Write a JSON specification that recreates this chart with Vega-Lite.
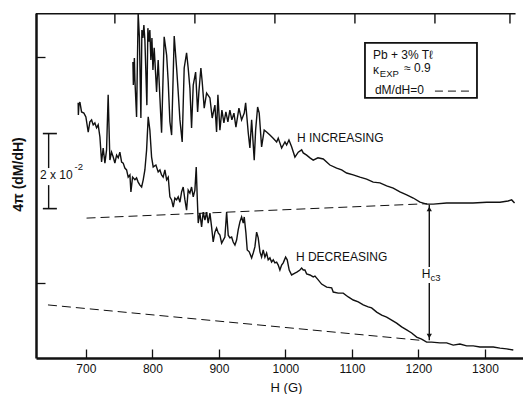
{
  "$schema": "https://vega.github.io/schema/vega-lite/v6.json",
  "width": 487,
  "height": 345,
  "autosize": {"type": "none"},
  "padding": {"left": 36, "top": 13, "right": 0, "bottom": 36},
  "background": "white",
  "config": {
    "font": "Liberation Sans",
    "view": {"stroke": null},
    "axis": {"grid": false, "domainColor": "#111", "tickColor": "#111", "labelColor": "#111", "titleColor": "#111"}
  },
  "resolve": {"axis": {"y": "independent"}},
  "datasets": {
    "inc": [
      {"H":770.7,"y":7.81},{"H":771.4,"y":7.20},{"H":772.9,"y":7.91},{"H":773.7,"y":7.33},{"H":776.2,"y":6.36},
      {"H":778.6,"y":9.10},{"H":780.5,"y":8.44},{"H":782.7,"y":6.33},{"H":784.2,"y":8.65},{"H":785.7,"y":8.44},
      {"H":787.2,"y":8.78},{"H":788.7,"y":8.39},{"H":791.7,"y":6.67},{"H":793.2,"y":8.70},{"H":794.7,"y":8.34},
      {"H":796.2,"y":8.65},{"H":797.7,"y":7.86},{"H":799.3,"y":8.44},{"H":800.8,"y":7.60},{"H":802.7,"y":8.18},
      {"H":806.3,"y":7.02},{"H":808.7,"y":7.86},{"H":811.3,"y":6.86},{"H":813.8,"y":5.94},{"H":817.7,"y":8.47},
      {"H":821.4,"y":7.99},{"H":823.8,"y":7.28},{"H":826.3,"y":6.23},{"H":828.9,"y":5.88},{"H":832.8,"y":8.49},
      {"H":836.4,"y":7.65},{"H":838.8,"y":7.02},{"H":841.4,"y":6.28},{"H":844.8,"y":5.70},{"H":847.8,"y":7.65},
      {"H":851.4,"y":8.05},{"H":853.8,"y":7.65},{"H":856.4,"y":7.12},{"H":858.9,"y":6.07},{"H":861.4,"y":7.20},
      {"H":865.0,"y":7.54},{"H":868.0,"y":6.49},{"H":869.9,"y":7.02},{"H":872.9,"y":7.65},{"H":874.9,"y":7.28},
      {"H":877.9,"y":6.59},{"H":881.5,"y":6.99},{"H":886.5,"y":6.86},{"H":889.9,"y":6.33},{"H":894.0,"y":6.67},
      {"H":896.5,"y":5.96},{"H":898.5,"y":6.94},{"H":901.5,"y":6.01},{"H":904.5,"y":6.54},{"H":907.5,"y":6.20},
      {"H":910.5,"y":6.49},{"H":913.5,"y":6.23},{"H":916.5,"y":6.54},{"H":919.5,"y":6.28},{"H":922.6,"y":6.46},
      {"H":925.6,"y":6.09},{"H":930.1,"y":6.59},{"H":934.1,"y":6.28},{"H":938.1,"y":6.46},{"H":940.2,"y":6.73},
      {"H":944.1,"y":5.94},{"H":946.6,"y":5.54},{"H":949.2,"y":6.28},{"H":953.1,"y":5.22},{"H":955.2,"y":6.01},
      {"H":958.2,"y":6.62},{"H":960.6,"y":6.46},{"H":964.2,"y":5.57},{"H":968.1,"y":6.01},{"H":971.7,"y":5.96},
      {"H":976.7,"y":5.88},{"H":981.2,"y":5.80},{"H":986.8,"y":5.70},{"H":989.2,"y":5.80},{"H":994.3,"y":5.54},
      {"H":999.3,"y":5.70},{"H":1001.8,"y":5.62},{"H":1005.3,"y":5.75},{"H":1009.3,"y":5.57},{"H":1014.3,"y":5.30},
      {"H":1019.3,"y":5.43},{"H":1024.4,"y":5.49},{"H":1026.8,"y":5.41},{"H":1031.9,"y":5.35},{"H":1036.9,"y":5.28},
      {"H":1041.8,"y":5.22},{"H":1048.9,"y":5.28},{"H":1056.9,"y":5.25},{"H":1066.9,"y":5.09},{"H":1077.0,"y":5.01},
      {"H":1084.5,"y":4.96},{"H":1092.0,"y":4.88},{"H":1101.9,"y":4.83},{"H":1112.0,"y":4.77},{"H":1122.1,"y":4.72},
      {"H":1132.0,"y":4.64},{"H":1142.1,"y":4.62},{"H":1152.2,"y":4.54},{"H":1162.1,"y":4.48},{"H":1172.2,"y":4.38},
      {"H":1182.3,"y":4.30},{"H":1192.2,"y":4.22},{"H":1202.3,"y":4.11},{"H":1212.3,"y":4.06},{"H":1222.3,"y":4.06},
      {"H":1242.4,"y":4.09},{"H":1262.4,"y":4.09},{"H":1282.0,"y":4.09},{"H":1302.6,"y":4.11},{"H":1322.6,"y":4.11},
      {"H":1334.6,"y":4.14},{"H":1340.2,"y":4.17},{"H":1344.5,"y":4.09}
    ],
    "dec": [
      {"H":688.4,"y":6.73},{"H":688.7,"y":6.41},{"H":689.5,"y":6.67},{"H":691.0,"y":6.75},{"H":693.5,"y":6.49},
      {"H":697.0,"y":6.46},{"H":700.0,"y":6.36},{"H":703.5,"y":5.96},{"H":706.0,"y":6.23},{"H":708.6,"y":6.28},
      {"H":711.0,"y":6.15},{"H":713.5,"y":6.20},{"H":716.1,"y":6.07},{"H":718.5,"y":6.15},{"H":721.1,"y":5.83},
      {"H":723.6,"y":5.17},{"H":726.0,"y":5.54},{"H":728.6,"y":5.14},{"H":731.1,"y":5.49},{"H":733.5,"y":6.94},
      {"H":736.1,"y":5.22},{"H":738.6,"y":5.43},{"H":741.1,"y":5.30},{"H":743.6,"y":5.14},{"H":746.2,"y":5.35},
      {"H":748.6,"y":5.28},{"H":751.1,"y":5.43},{"H":753.7,"y":5.17},{"H":756.1,"y":5.14},{"H":758.6,"y":5.01},
      {"H":761.2,"y":4.96},{"H":763.6,"y":4.77},{"H":766.2,"y":4.83},{"H":767.7,"y":4.38},{"H":770.2,"y":4.77},
      {"H":773.7,"y":4.70},{"H":776.2,"y":4.75},{"H":778.6,"y":4.64},{"H":781.2,"y":4.56},{"H":783.8,"y":4.51},
      {"H":786.2,"y":4.70},{"H":788.7,"y":4.96},{"H":791.3,"y":5.49},{"H":793.7,"y":6.36},{"H":796.2,"y":6.01},
      {"H":798.8,"y":5.30},{"H":801.2,"y":5.04},{"H":805.3,"y":5.09},{"H":808.7,"y":4.91},{"H":811.3,"y":4.96},
      {"H":813.8,"y":4.83},{"H":816.2,"y":4.77},{"H":818.8,"y":4.96},{"H":821.4,"y":4.70},{"H":823.8,"y":4.77},
      {"H":826.3,"y":4.25},{"H":828.9,"y":4.17},{"H":831.3,"y":3.98},{"H":833.8,"y":4.22},{"H":836.4,"y":4.17},
      {"H":838.8,"y":4.25},{"H":841.4,"y":4.11},{"H":843.9,"y":4.38},{"H":846.3,"y":4.51},{"H":848.9,"y":4.17},
      {"H":851.4,"y":3.90},{"H":853.8,"y":4.43},{"H":856.4,"y":4.35},{"H":858.9,"y":4.51},{"H":861.4,"y":4.25},
      {"H":863.9,"y":4.43},{"H":865.9,"y":5.04},{"H":867.3,"y":4.30},{"H":868.9,"y":3.56},{"H":871.4,"y":3.82},
      {"H":874.0,"y":3.46},{"H":876.4,"y":3.85},{"H":879.0,"y":3.64},{"H":881.5,"y":3.85},{"H":883.9,"y":3.56},
      {"H":886.5,"y":3.82},{"H":889.0,"y":3.46},{"H":891.4,"y":3.06},{"H":894.0,"y":3.32},{"H":896.5,"y":3.43},
      {"H":899.0,"y":3.30},{"H":901.5,"y":3.24},{"H":904.1,"y":3.03},{"H":906.5,"y":3.11},{"H":909.0,"y":3.19},
      {"H":911.6,"y":3.85},{"H":914.0,"y":3.24},{"H":916.5,"y":3.17},{"H":919.1,"y":3.19},{"H":921.5,"y":3.06},
      {"H":924.1,"y":2.98},{"H":926.6,"y":3.11},{"H":929.0,"y":3.38},{"H":931.6,"y":3.59},{"H":934.1,"y":3.72},
      {"H":936.6,"y":3.56},{"H":938.1,"y":3.72},{"H":940.6,"y":3.30},{"H":942.6,"y":2.85},{"H":945.6,"y":2.80},
      {"H":949.2,"y":2.64},{"H":951.6,"y":2.77},{"H":954.1,"y":2.93},{"H":956.7,"y":3.32},{"H":959.1,"y":3.17},
      {"H":961.7,"y":2.80},{"H":964.2,"y":2.66},{"H":966.6,"y":2.85},{"H":969.2,"y":2.66},{"H":971.7,"y":2.77},
      {"H":974.1,"y":2.59},{"H":976.7,"y":2.64},{"H":979.2,"y":2.53},{"H":981.7,"y":2.59},{"H":984.2,"y":2.51},
      {"H":986.8,"y":2.53},{"H":989.2,"y":2.45},{"H":991.7,"y":2.32},{"H":994.3,"y":2.45},{"H":996.7,"y":2.51},
      {"H":1000.3,"y":2.66},{"H":1002.7,"y":2.59},{"H":1005.7,"y":2.32},{"H":1009.3,"y":2.19},{"H":1014.3,"y":2.24},
      {"H":1017.8,"y":2.27},{"H":1021.8,"y":2.32},{"H":1024.4,"y":2.37},{"H":1026.8,"y":2.32},{"H":1029.3,"y":2.32},
      {"H":1031.9,"y":2.22},{"H":1036.9,"y":2.19},{"H":1041.8,"y":2.14},{"H":1044.4,"y":2.16},{"H":1049.3,"y":2.06},
      {"H":1054.4,"y":1.95},{"H":1062.0,"y":1.87},{"H":1069.5,"y":1.85},{"H":1071.9,"y":1.74},{"H":1079.4,"y":1.71},
      {"H":1086.9,"y":1.71},{"H":1094.5,"y":1.61},{"H":1102.0,"y":1.53},{"H":1109.5,"y":1.48},{"H":1117.0,"y":1.40},
      {"H":1124.5,"y":1.35},{"H":1129.6,"y":1.32},{"H":1137.2,"y":1.21},{"H":1144.7,"y":1.13},{"H":1152.2,"y":1.08},
      {"H":1159.7,"y":1.00},{"H":1167.2,"y":0.92},{"H":1174.7,"y":0.82},{"H":1182.3,"y":0.74},{"H":1189.8,"y":0.66},
      {"H":1197.3,"y":0.55},{"H":1204.8,"y":0.50},{"H":1212.3,"y":0.42},{"H":1219.9,"y":0.42},{"H":1232.3,"y":0.40},
      {"H":1242.4,"y":0.40},{"H":1252.3,"y":0.34},{"H":1262.4,"y":0.37},{"H":1272.5,"y":0.32},{"H":1282.4,"y":0.32},
      {"H":1292.5,"y":0.29},{"H":1302.6,"y":0.29},{"H":1312.5,"y":0.29},{"H":1322.6,"y":0.26},{"H":1332.6,"y":0.24},
      {"H":1342.6,"y":0.21}
    ],
    "baselines": [
      {"seg":"a","H":701,"y":3.69},{"seg":"a","H":1213,"y":4.07},
      {"seg":"b","H":643,"y":1.40},{"seg":"b","H":1207,"y":0.46}
    ],
    "vbars": [
      {"H":644,"y":5.92,"y2":5.01},{"H":644,"y":4.56,"y2":3.94},
      {"H":1216.3,"y":4.04,"y2":2.40},{"H":1216.3,"y":1.98,"y2":0.47},
      {"H":743.6,"y":9.1,"y2":8.82},{"H":863.9,"y":9.1,"y2":8.82},{"H":984.2,"y":9.1,"y2":8.82},
      {"H":1104.5,"y":9.1,"y2":8.82},{"H":1224.8,"y":9.1,"y2":8.82},{"H":1337.6,"y":9.1,"y2":8.82}
    ],
    "caps": [
      {"H":635.3,"H2":656.4,"y":5.92},{"H":635.3,"H2":656.4,"y":3.94},
      {"H":625,"H2":1346,"y":9.08}
    ],
    "heads": [
      {"H":1216.3,"y":3.93,"dir":"up"},{"H":1216.3,"y":0.58,"dir":"down"}
    ],
    "box": [{"H":1119.6,"H2":1288.0,"y":8.31,"y2":6.86}],
    "legdash": [{"H":1224.8,"H2":1277.5,"y":7.04}],
    "bigtext": [
      {"H":1017.3,"y":5.80,"label":"H INCREASING"},
      {"H":1015.8,"y":2.66,"label":"H DECREASING"},
      {"H":631.0,"y":4.83,"label":"2 x 10"},
      {"H":1204.8,"y":2.22,"label":"H"},
      {"H":1131.6,"y":7.99,"label":"Pb + 3% Tℓ"},
      {"H":1131.6,"y":7.60,"label":"κ"},
      {"H":1178.5,"y":7.65,"label":"≈ 0.9"},
      {"H":1134.6,"y":7.07,"label":"dM/dH=0"}
    ],
    "smalltext": [
      {"H":683.0,"y":5.03,"label":"-2"},
      {"H":1218.0,"y":2.11,"label":"c3"},
      {"H":1142.0,"y":7.50,"label":"EXP"}
    ]
  },
  "layer": [
    {
      "data": {"name": "inc"},
      "mark": {"type": "line", "color": "#111", "strokeWidth": 1.4},
      "encoding": {
        "x": {"field": "H", "type": "quantitative", "scale": {"domain": [625, 1357.2], "nice": false, "zero": false},
          "axis": {"orient": "bottom", "values": [700, 800, 900, 1000, 1100, 1200, 1300], "tickSize": -9, "tickWidth": 1.3,
            "domainWidth": 2.5, "labelFontSize": 12, "labelPadding": 14, "labelFlush": false, "format": "d",
            "title": "H (G)", "titleFontSize": 13, "titleFontWeight": "normal", "titleX": 250, "titleY": 33, "titleBaseline": "alphabetic"}},
        "y": {"field": "y", "type": "quantitative", "scale": {"domain": [0, 9.1], "nice": false, "zero": false},
          "axis": {"values": [1.97, 7.94], "labels": false, "tickSize": -9, "tickWidth": 1.3, "domainWidth": 2.5,
            "title": "4π (dM/dH)", "titleFontSize": 14, "titleFontWeight": "bold", "titleAngle": -90,
            "titleX": -18, "titleY": 161, "titleAlign": "center", "titleBaseline": "middle"}}
      }
    },
    {
      "data": {"name": "baselines"},
      "mark": {"type": "line", "color": "#111", "strokeWidth": 1, "strokeDash": [9, 5]},
      "encoding": {
        "x": {"field": "H", "type": "quantitative", "title": "H (G)"},
        "y": {"field": "y", "type": "quantitative", "axis": null},
        "detail": {"field": "seg"}
      }
    },
    {
      "data": {"name": "dec"},
      "mark": {"type": "line", "color": "#111", "strokeWidth": 1.4},
      "encoding": {
        "x": {"field": "H", "type": "quantitative", "title": "H (G)"},
        "y": {"field": "y", "type": "quantitative", "axis": null}
      }
    },
    {
      "data": {"name": "vbars"},
      "mark": {"type": "rule", "color": "#111", "strokeWidth": 1.4},
      "encoding": {
        "x": {"field": "H", "type": "quantitative", "title": "H (G)"},
        "y": {"field": "y", "type": "quantitative", "axis": null},
        "y2": {"field": "y2"}
      }
    },
    {
      "data": {"name": "caps"},
      "mark": {"type": "rule", "color": "#111", "strokeWidth": 1.6},
      "encoding": {
        "x": {"field": "H", "type": "quantitative", "title": "H (G)"},
        "x2": {"field": "H2"},
        "y": {"field": "y", "type": "quantitative", "axis": null}
      }
    },
    {
      "data": {"name": "heads"},
      "mark": {"type": "point", "filled": true, "color": "#111", "size": 28, "opacity": 1},
      "encoding": {
        "x": {"field": "H", "type": "quantitative", "title": "H (G)"},
        "y": {"field": "y", "type": "quantitative", "axis": null},
        "shape": {"field": "dir", "type": "nominal", "scale": {"domain": ["up", "down"], "range": ["triangle-up", "triangle-down"]}, "legend": null}
      }
    },
    {
      "data": {"name": "box"},
      "mark": {"type": "rect", "fill": "white", "stroke": "#111", "strokeWidth": 1.8},
      "encoding": {
        "x": {"field": "H", "type": "quantitative", "title": "H (G)"},
        "x2": {"field": "H2"},
        "y": {"field": "y", "type": "quantitative", "axis": null},
        "y2": {"field": "y2"}
      }
    },
    {
      "data": {"name": "legdash"},
      "mark": {"type": "rule", "color": "#111", "strokeWidth": 1, "strokeDash": [8, 5]},
      "encoding": {
        "x": {"field": "H", "type": "quantitative", "title": "H (G)"},
        "x2": {"field": "H2"},
        "y": {"field": "y", "type": "quantitative", "axis": null}
      }
    },
    {
      "data": {"name": "bigtext"},
      "mark": {"type": "text", "align": "left", "baseline": "middle", "fontSize": 12, "color": "#111"},
      "encoding": {
        "x": {"field": "H", "type": "quantitative", "title": "H (G)"},
        "y": {"field": "y", "type": "quantitative", "axis": null},
        "text": {"field": "label"}
      }
    },
    {
      "data": {"name": "smalltext"},
      "mark": {"type": "text", "align": "left", "baseline": "middle", "fontSize": 9.5, "color": "#111"},
      "encoding": {
        "x": {"field": "H", "type": "quantitative", "title": "H (G)"},
        "y": {"field": "y", "type": "quantitative", "axis": null},
        "text": {"field": "label"}
      }
    }
  ]
}
